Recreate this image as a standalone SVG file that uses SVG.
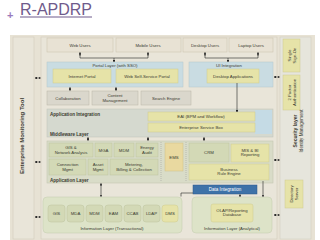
<svg xmlns="http://www.w3.org/2000/svg" width="320" height="240" viewBox="0 0 320 240">
<style>
text{font-family:"Liberation Sans",Arial,sans-serif;fill:#3a3a30}
.t{font-size:4.3px;text-anchor:middle}
.tl{font-size:4.6px;font-weight:bold}
.usr{fill:#e8e2d4;stroke:#c9c1ad;stroke-width:0.5}
.blue{fill:#c9dce2;stroke:#b5c8cc;stroke-width:0.5}
.yel{fill:#e6e3a8;stroke:#cfcb8e;stroke-width:0.5}
.gray{fill:#dad7cc;stroke:#bbb6a8;stroke-width:0.5}
.grn{fill:#d3d9b6;stroke:#bcc39e;stroke-width:0.5}
.info{fill:#dde3c8;stroke:#c3caae;stroke-width:0.5}
.c{stroke:#222;stroke-width:0.6;fill:none}
.ca{stroke:#222;stroke-width:0.6;fill:none;marker-end:url(#ah)}
.cb{stroke:#222;stroke-width:0.6;fill:none;marker-end:url(#ah);marker-start:url(#ah)}
</style>
<defs>
<marker id="ah" viewBox="0 0 6 6" refX="5" refY="3" markerWidth="4" markerHeight="4" orient="auto-start-reverse">
<path d="M0,0 L6,3 L0,6 z" fill="#222"/>
</marker>
</defs>
<rect width="320" height="240" fill="#ffffff"/>
<g id="title">
<text x="7" y="19" style="font-size:11px;fill:#9a7bbd;font-weight:bold">+</text>
<text x="20" y="15" style="font-size:16px;fill:#6f5b8c">R-APDRP</text>
<line x1="20" y1="17" x2="92" y2="17" stroke="#6f5b8c" stroke-width="1"/>
</g>
<rect x="10" y="35" width="305" height="205" fill="#e7e2d4"/>
<g id="enterprise-monitoring">
<rect x="13" y="37" width="21" height="202" fill="#e9e5d9" stroke="#cfc8b6" stroke-width="0.5"/>
<text transform="translate(24,136) rotate(-90)" class="t" style="font-size:6px;font-weight:bold">Enterprise Monitoring Tool</text>
</g>
<rect x="41" y="37" width="236" height="202" fill="#e9e5d9" stroke="#cfc8b6" stroke-width="0.5"/>
<g id="users">
<rect x="47" y="38" width="66" height="14" class="usr"/><text x="80" y="46.5" class="t">Web Users</text>
<rect x="116" y="38" width="65" height="14" class="usr"/><text x="148" y="46.5" class="t">Mobile Users</text>
<rect x="183" y="38" width="44" height="14" class="usr"/><text x="205" y="46.5" class="t">Desktop Users</text>
<rect x="229" y="38" width="44" height="14" class="usr"/><text x="251" y="46.5" class="t">Laptop Users</text>
</g>
<g id="portal-layer">
<rect x="47" y="62" width="136" height="25" class="blue"/>
<text x="115" y="67" class="t">Portal Layer (with SSO)</text>
<rect x="53" y="69" width="58" height="14" class="yel"/><text x="82" y="77.5" class="t">Internet Portal</text>
<rect x="116" y="69" width="62" height="14" class="yel"/><text x="147" y="77.5" class="t">Web Self-Service Portal</text>
</g>
<g id="ui-integration">
<rect x="189" y="62" width="84" height="25" class="blue"/>
<text x="229" y="67" class="t">UI Integration</text>
<rect x="207" y="69" width="52" height="14" class="yel"/><text x="233" y="77.5" class="t">Desktop Applications</text>
</g>
<g id="services">
<rect x="47" y="91" width="42" height="14" class="gray"/><text x="68" y="99.5" class="t">Collaboration</text>
<rect x="92" y="91" width="46" height="14" class="gray"/><text x="115" y="97.2" class="t">Content</text><text x="115" y="102" class="t">Management</text>
<rect x="141" y="91" width="50" height="14" class="gray"/><text x="166" y="99.5" class="t">Search Engine</text>
</g>
<g id="middleware-layer">
<rect x="47" y="109" width="226" height="28" fill="#d5d9cf" stroke="#bfc3b8" stroke-width="0.5"/>
<rect x="255" y="110" width="17" height="24" fill="#c5dbe5"/>
<text x="50" y="116" class="tl">Application Integration</text>
<text x="50" y="135.5" class="tl">Middleware Layer</text>
<rect x="148" y="112" width="107" height="9" class="yel"/><text x="201" y="118" class="t">EAI (BPM and Workflow)</text>
<rect x="148" y="123" width="107" height="9" class="yel"/><text x="201" y="129" class="t">Enterprise Service Box</text>
</g>
<g id="application-layer">
<rect x="47" y="141" width="226" height="42" fill="#d9dcc8" stroke="#c0c3ad" stroke-width="0.5"/>
<rect x="49" y="143" width="44" height="14" class="grn"/><text x="71" y="149" class="t">GIS &amp;</text><text x="71" y="153.8" class="t">Network Analysis</text>
<rect x="95" y="143" width="17" height="14" class="grn"/><text x="103.5" y="151.5" class="t">MGA</text>
<rect x="114" y="143" width="20" height="14" class="grn"/><text x="124" y="151.5" class="t">MDM</text>
<rect x="136" y="143" width="22" height="14" class="grn"/><text x="147" y="149" class="t">Energy</text><text x="147" y="153.8" class="t">Audit</text>
<rect x="49" y="159" width="37" height="16" class="grn"/><text x="67.5" y="166" class="t">Connection</text><text x="67.5" y="170.8" class="t">Mgmt</text>
<rect x="88" y="159" width="20" height="16" class="grn"/><text x="98" y="166" class="t">Asset</text><text x="98" y="170.8" class="t">Mgmt</text>
<rect x="110" y="159" width="48" height="16" class="grn"/><text x="134" y="166" class="t">Metering,</text><text x="134" y="170.8" class="t">Billing &amp; Collection</text>
<line x1="161" y1="142" x2="161" y2="181" stroke="#999" stroke-width="0.5" stroke-dasharray="1,1"/>
<line x1="186" y1="142" x2="186" y2="181" stroke="#999" stroke-width="0.5" stroke-dasharray="1,1"/>
<rect x="165" y="143" width="18" height="28" fill="#e9d9a0" stroke="#d0c085" stroke-width="0.5"/><text x="174" y="158.5" class="t">EMS</text>
<rect x="189" y="143" width="40" height="19" class="grn"/><text x="209" y="154" class="t">CRM</text>
<rect x="231" y="144" width="38" height="18" class="yel"/><text x="250" y="151.5" class="t">MIS &amp; BI</text><text x="250" y="156.3" class="t">Reporting</text>
<rect x="189" y="164" width="80" height="16" class="yel"/><text x="229" y="170.5" class="t">Business</text><text x="229" y="175.3" class="t">Rule Engine</text>
<text x="50" y="182" class="tl">Application Layer</text>
</g>
<g id="data-integration">
<rect x="193" y="185" width="64" height="9" fill="#3e72a8" stroke="#2d5a8a" stroke-width="0.5"/>
<text x="225" y="191.2" class="t" style="fill:#ffffff;font-size:4.6px">Data Integration</text>
</g>
<g id="info-transactional">
<rect x="43" y="197" width="139" height="36" rx="4" class="info"/>
<rect x="48" y="205" width="17" height="17" rx="3" class="grn"/><text x="56.5" y="215" class="t">GIS</text>
<rect x="67" y="205" width="17" height="17" rx="3" class="grn"/><text x="75.5" y="215" class="t">MDA</text>
<rect x="86" y="205" width="17" height="17" rx="3" class="grn"/><text x="94.5" y="215" class="t">MDM</text>
<rect x="105" y="205" width="17" height="17" rx="3" class="grn"/><text x="113.5" y="215" class="t">EAM</text>
<rect x="124" y="205" width="17" height="17" rx="3" class="grn"/><text x="132.5" y="215" class="t">CCAB</text>
<rect x="143" y="205" width="17" height="17" rx="3" class="grn"/><text x="151.5" y="215" class="t">LDAP</text>
<rect x="162" y="205" width="16" height="17" rx="3" class="yel"/><text x="170" y="215" class="t">DMS</text>
<text x="112" y="229.5" class="t">Information Layer (Transactional)</text>
</g>
<g id="info-analytical">
<rect x="192" y="197" width="80" height="36" rx="4" class="info"/>
<rect x="211" y="204" width="42" height="18" rx="2" class="yel"/><text x="232" y="211.5" class="t">OLAP/Reporting</text><text x="232" y="216.3" class="t">Database</text>
<text x="232" y="229.5" class="t">Information Layer (Analytical)</text>
</g>
<g id="security-layer">
<rect x="280" y="37" width="31" height="202" fill="#e6e5dc" stroke="#cfccbc" stroke-width="0.5"/>
<rect x="283" y="39" width="17" height="33" class="yel"/>
<text transform="translate(290.5,55.5) rotate(-90)" class="t">Single</text>
<text transform="translate(295.5,55.5) rotate(-90)" class="t">Sign-On</text>
<rect x="283" y="75" width="17" height="35" class="yel"/>
<text transform="translate(290.5,92.5) rotate(-90)" class="t">2 Factor</text>
<text transform="translate(295.5,92.5) rotate(-90)" class="t">Authentication</text>
<text transform="translate(297,131) rotate(-90)" class="t" style="font-weight:bold;font-size:5px">Security layer</text>
<text transform="translate(303,131) rotate(-90)" class="t" style="font-size:4.6px">Identity Management</text>
</g>
<g id="directory-server">
<rect x="285" y="180" width="18" height="28" class="yel"/>
<text transform="translate(293,194) rotate(-90)" class="t">Directory</text>
<text transform="translate(298,194) rotate(-90)" class="t">Server</text>
</g>
<g id="connectors">
<line x1="80" y1="54" x2="80" y2="58" class="c"/>
<line x1="148" y1="54" x2="148" y2="58" class="c"/>
<line x1="80" y1="58" x2="148" y2="58" class="c"/>
<line x1="80" y1="56" x2="80" y2="52.5" class="ca"/>
<line x1="148" y1="56" x2="148" y2="52.5" class="ca"/>
<line x1="114" y1="58" x2="114" y2="62" class="ca"/>
<line x1="205" y1="54" x2="205" y2="58" class="c"/>
<line x1="258" y1="54" x2="258" y2="58" class="c"/>
<line x1="205" y1="58" x2="258" y2="58" class="c"/>
<line x1="205" y1="56" x2="205" y2="52.5" class="ca"/>
<line x1="258" y1="56" x2="258" y2="52.5" class="ca"/>
<line x1="228" y1="58" x2="228" y2="62" class="ca"/>
<line x1="70" y1="87.5" x2="70" y2="90.5" class="cb"/>
<line x1="116" y1="87.5" x2="116" y2="90.5" class="cb"/>
<line x1="237" y1="83" x2="237" y2="112" class="ca"/>
<line x1="88" y1="137.5" x2="88" y2="140.5" class="cb"/>
<line x1="148" y1="137.5" x2="148" y2="140.5" class="cb"/>
<line x1="204" y1="137.5" x2="204" y2="140.5" class="cb"/>
<line x1="101" y1="183.5" x2="101" y2="196.5" class="cb"/>
<line x1="181" y1="193" x2="193" y2="193" class="c"/>
<line x1="181" y1="193" x2="181" y2="196.5" class="c"/>
<line x1="240" y1="194" x2="240" y2="196.7" class="ca"/>
<line x1="263" y1="181" x2="263" y2="196.7" class="ca"/>
<line x1="35" y1="78" x2="40.5" y2="78" class="cb"/>
<line x1="35" y1="162" x2="40.5" y2="162" class="cb"/>
<line x1="35" y1="217" x2="40.5" y2="217" class="cb"/>
<line x1="274" y1="77" x2="279.5" y2="77" class="cb"/>
<line x1="274" y1="160" x2="279.5" y2="160" class="cb"/>
<line x1="274" y1="215" x2="279.5" y2="215" class="cb"/>
</g>
</svg>
